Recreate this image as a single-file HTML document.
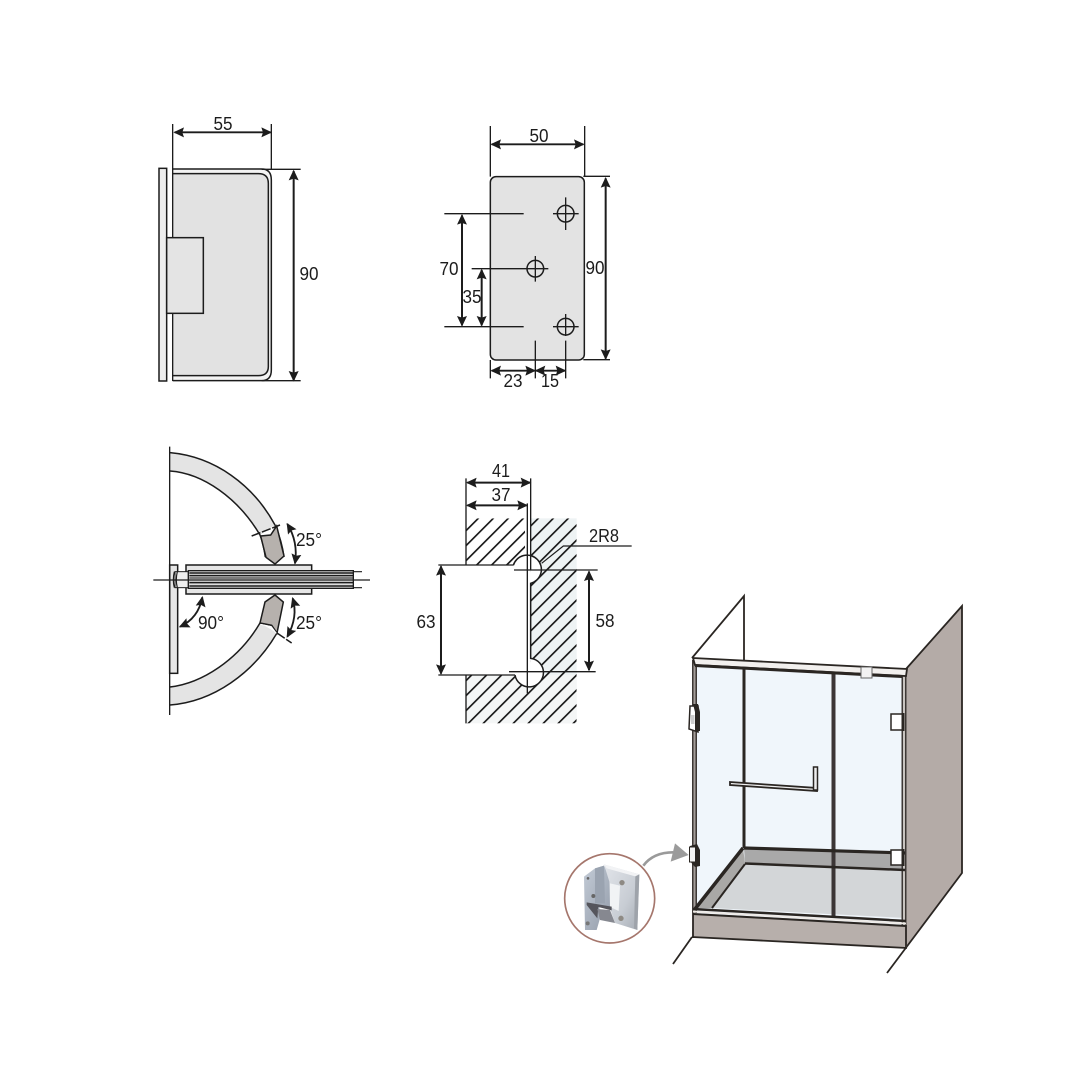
<!DOCTYPE html>
<html><head><meta charset="utf-8">
<style>html,body{margin:0;padding:0;background:#fff}svg{display:block}
text{font-family:"Liberation Sans",sans-serif;fill:#1c1c1c;text-anchor:middle;font-size:18px}</style></head>
<body>
<svg width="1080" height="1080" viewBox="0 0 1080 1080" xmlns="http://www.w3.org/2000/svg">
<defs>
<marker id="a" viewBox="0 0 32 32" refX="28" refY="16" markerWidth="32" markerHeight="32" markerUnits="userSpaceOnUse" orient="auto-start-reverse"><path d="M0,1 L32,16 L0,31 L5,16 Z" fill="#1c1c1c"/></marker>
<clipPath id="hc"><rect x="168" y="190" width="177" height="140"/><rect x="362" y="190" width="138" height="470"/><rect x="168" y="660" width="332" height="145"/></clipPath>
<linearGradient id="g1" x1="0" y1="0" x2="1" y2="1"><stop offset="0" stop-color="#c3cbd6"/><stop offset="1" stop-color="#8f98a6"/></linearGradient>
<linearGradient id="g2" x1="0" y1="0" x2="1" y2="1"><stop offset="0" stop-color="#e2e5ea"/><stop offset=".6" stop-color="#c8cdd4"/><stop offset="1" stop-color="#a5abb3"/></linearGradient>
<filter id="soft" x="0" y="0" width="100%" height="100%"><feGaussianBlur stdDeviation="0.35"/></filter>
</defs>
<g filter="url(#soft)">
<rect width="1080" height="1080" fill="#fff"/>

<!-- Drawing 1 -->
<g transform="translate(140,100) scale(.33333)" fill="none" stroke="#1c1c1c" stroke-width="4.5">
<rect x="57" y="205" width="23" height="638" fill="#eee"/>
<path d="M98,207 H365 Q394,207 394,240 V810 Q394,842 365,842 H98" fill="#f3f3f3"/>
<path d="M98,221 H355 Q385,221 385,250 V800 Q385,827 355,827 H98 Z" fill="#e2e2e2" stroke="none"/>
<path d="M98,221 H355 Q385,221 385,250 V800 Q385,827 355,827 H98"/>
<path d="M98,72 V843 M394,72 V210 M365,208 H482 M365,842 H482" stroke-width="4"/>
<rect x="80" y="413" width="110" height="227" fill="#e4e4e4"/>
<path d="M104,97 H392" stroke-width="5.500" marker-start="url(#a)" marker-end="url(#a)"/>
<path d="M461,213 V841" stroke-width="6" marker-start="url(#a)" marker-end="url(#a)"/>
</g>
<text x="223" y="130" textLength="19" lengthAdjust="spacingAndGlyphs">55</text>
<text x="309" y="280" textLength="19" lengthAdjust="spacingAndGlyphs">90</text>

<!-- Drawing 2 -->
<g transform="translate(430,110) scale(.33333)" fill="none" stroke="#1c1c1c" stroke-width="4.5">
<rect x="181" y="200" width="282" height="550" rx="17" fill="#e3e3e3"/>
<path d="M181,48 V200 M181,750 V805 M464,48 V198 M460,199 H540 M460,749 H540" stroke-width="4"/>
<path d="M43,311 H281 M43,650 H281 M125,476 H355 M369,311 H446 M407,262 V360 M369,650 H446 M407,612 V678 M407,692 V805 M316,438 V515 M316,692 V805" stroke-width="4"/>
<circle cx="407" cy="311" r="25"/><circle cx="316" cy="476" r="25"/><circle cx="407" cy="650" r="25"/>
<path d="M185,103 H460" stroke-width="5.500" marker-start="url(#a)" marker-end="url(#a)"/>
<path d="M527,205 V746" stroke-width="6" marker-start="url(#a)" marker-end="url(#a)"/>
<path d="M96,316 V646" stroke-width="6" marker-start="url(#a)" marker-end="url(#a)"/>
<path d="M155,480 V646" stroke-width="6" marker-start="url(#a)" marker-end="url(#a)"/>
<path d="M185,782 H314" stroke-width="5.500" marker-start="url(#a)" marker-end="url(#a)"/>
<path d="M318,782 H405" stroke-width="5.500" marker-start="url(#a)" marker-end="url(#a)"/>
</g>
<text x="539" y="142" textLength="19" lengthAdjust="spacingAndGlyphs">50</text>
<text x="595" y="274" textLength="19" lengthAdjust="spacingAndGlyphs">90</text>
<text x="449" y="275" textLength="19" lengthAdjust="spacingAndGlyphs">70</text>
<text x="472" y="303" textLength="19" lengthAdjust="spacingAndGlyphs">35</text>
<text x="513" y="387" textLength="19" lengthAdjust="spacingAndGlyphs">23</text>
<text x="550" y="387" textLength="18" lengthAdjust="spacingAndGlyphs">15</text>

<!-- Drawing 3 -->
<g transform="translate(140,440) scale(.33333)" fill="none" stroke="#1c1c1c" stroke-width="4.5">
<path d="M90,38 C225,50 340,135 405,255 L360,285 C295,175 190,100 90,93 Z" fill="#e4e4e4" stroke="none"/>
<path d="M90,795 C220,785 340,700 411,579 L360,549 C295,660 185,730 90,741 Z" fill="#e4e4e4" stroke="none"/>
<path d="M90,38 C225,50 340,135 405,255 C418,285 428,320 432,351 M90,93 C190,100 295,175 360,285 C368,305 373,330 376,351"/>
<path d="M90,795 C220,785 340,700 411,579 M90,741 C185,730 295,660 360,549"/>
<path d="M362,288 L392,285 L410,258 L432,348 L405,372 L378,352 Z" fill="#b6b1ad"/>
<path d="M405,465 L430,486 L411,579 L395,556 L360,549 L375,486 Z" fill="#b6b1ad"/>
<path d="M362,553 L394,560 L409,580" stroke="#fff" stroke-width="3"/>
<path d="M335,288 L420,255 M411,579 L455,609" stroke-dasharray="28 5"/>
<rect x="89" y="375" width="24" height="325" fill="#e6e6e6"/>
<rect x="138" y="375" width="377" height="87" fill="#e6e6e6"/>
<rect x="105" y="395" width="40" height="48" fill="#eee" stroke-width="3"/>
<path d="M103,395 Q97,420 103,443 M112,395 Q106,420 112,443" stroke-width="3.500"/>
<rect x="145" y="392" width="495" height="53" fill="#ddd" stroke-width="4"/>
<path d="M148,399 H640 M148,407 H640 M148,428 H640 M148,438 H640" stroke-width="4.500"/>
<path d="M148,414 H640" stroke-width="3"/>
<path d="M640,395 H666 M640,443 H666" stroke-width="3.500"/>
<path d="M89,20 V825 M40,420 H690" stroke-width="4"/>
<path d="M442,252 Q475,305 465,370" stroke-width="5.500" marker-start="url(#a)" marker-end="url(#a)"/>
<path d="M458,475 Q475,530 442,590" stroke-width="5.500" marker-start="url(#a)" marker-end="url(#a)"/>
<path d="M187,472 Q175,535 120,560" stroke-width="5.500" marker-start="url(#a)" marker-end="url(#a)"/>
</g>
<text x="309" y="546" textLength="26" lengthAdjust="spacingAndGlyphs">25°</text>
<text x="309" y="629" textLength="26" lengthAdjust="spacingAndGlyphs">25°</text>
<text x="211" y="629" textLength="26" lengthAdjust="spacingAndGlyphs">90°</text>

<!-- Drawing 4 -->
<g transform="translate(410,455) scale(.33333)" fill="none" stroke="#1c1c1c" stroke-width="4.5">
<rect x="362" y="190" width="138" height="615" fill="#eef3f4" stroke="none"/>
<rect x="168" y="660" width="332" height="145" fill="#f4f6f6" stroke="none"/>
<g clip-path="url(#hc)"><path stroke-width="5" d="M295,100L-505,900M340,100L-460,900M385,100L-415,900M430,100L-370,900M475,100L-325,900M520,100L-280,900M565,100L-235,900M610,100L-190,900M655,100L-145,900M700,100L-100,900M745,100L-55,900M790,100L-10,900M835,100L35,900M880,100L80,900M925,100L125,900M970,100L170,900M1015,100L215,900M1060,100L260,900M1105,100L305,900M1150,100L350,900M1195,100L395,900"/></g>
<path d="M310,331 A43,43 0 1 1 362,385 L362,345 L310,345 Z" fill="#fff" stroke="none"/>
<path d="M362,610 A43,43 0 1 1 315,660 L345,645 L362,645 Z" fill="#fff" stroke="none"/>
<rect x="345" y="320" width="17" height="300" fill="#fff" stroke="none"/>
<rect x="85" y="332" width="260" height="327" fill="#fff" stroke="none"/>
<path d="M310,331 A43,43 0 1 1 362,385 V610 A43,43 0 1 1 315,660"/>
<path d="M168,70 V330 M168,660 V805 M362,70 V345 M352,145 V715 M85,330 H310 M85,660 H315 M312,345 H563 M297,650 H557" stroke-width="4"/>
<path d="M665,273 H460 L395,325" stroke-width="3.500"/>
<path d="M172,83 H360" stroke-width="6" marker-start="url(#a)" marker-end="url(#a)"/>
<path d="M172,151 H350" stroke-width="6" marker-start="url(#a)" marker-end="url(#a)"/>
<path d="M93,334 V656" stroke-width="6" marker-start="url(#a)" marker-end="url(#a)"/>
<path d="M537,350 V645" stroke-width="6" marker-start="url(#a)" marker-end="url(#a)"/>
</g>
<text x="501" y="477" textLength="18" lengthAdjust="spacingAndGlyphs">41</text>
<text x="501" y="501" textLength="19" lengthAdjust="spacingAndGlyphs">37</text>
<text x="604" y="542" textLength="30" lengthAdjust="spacingAndGlyphs">2R8</text>
<text x="426" y="628" textLength="19" lengthAdjust="spacingAndGlyphs">63</text>
<text x="605" y="627" textLength="19" lengthAdjust="spacingAndGlyphs">58</text>

<!-- Shower -->
<g stroke="#2b2624" fill="none">
<polygon points="906,669 962,606 962,873 905,948" fill="#b4aba7" stroke="none"/>
<path d="M906,669 L962,606 V873 L887,973" stroke-width="1.800"/>
<polygon points="694,665 904,676 904,925 694,913" fill="#f0f6fb" stroke="none"/>
<polygon points="745,863 905,870 905,918 712,908" fill="#d3d6d8" stroke="none"/>
<polygon points="744,848 905,853 905,870 745,863" fill="#a9a9a9" stroke="none"/>
<polygon points="695,908 743,848 745,863 712,908" fill="#a9a8a6" stroke="none"/>
<polygon points="693,913 906,925 907,948 692,937" fill="#b7afab" stroke="none"/>
<path d="M692,937 L907,948 M692,937 L673,964 M693,913 V937 M906,925 V948" stroke-width="1.800"/>
<path d="M692,658 L744,596 V848" stroke-width="1.800"/>
<path d="M744,665 V848" stroke-width="3"/>
<path d="M694.500,660 V913" stroke-width="5" stroke="#3d3835"/>
<path d="M694.500,660 V913" stroke-width="2" stroke="#a39d99"/>
<path d="M904,672 V925" stroke-width="5" stroke="#3d3835"/>
<path d="M904,672 V925" stroke-width="2" stroke="#c8c4c0"/>
<path d="M833.500,668 V917" stroke-width="4" stroke="#3a3634"/>
<path d="M744,848 L905,853" stroke-width="3.200"/>
<path d="M745,863.500 L905,870" stroke-width="2.500"/>
<path d="M695,909 L743,848" stroke-width="3.500"/>
<path d="M712,908 L745,864" stroke-width="2"/>
<path d="M693,909 L906,921" stroke-width="2.500"/>
<path d="M693,914 L906,926" stroke-width="2"/>
<path d="M693,911.500 L906,923.500" stroke="#eeeae6" stroke-width="1.800"/>
<path d="M693,658 L907,669 L906,676 L695,665 Z" fill="#f2f0ee" stroke-width="1.800"/>
<path d="M695,665.500 L902,676.500" stroke-width="3"/>
<rect x="861" y="667" width="11" height="11" fill="#f2f2f2" stroke="#666" stroke-width="1"/>
<path d="M730,782 L817,788 V791 L730,785 Z" fill="#eee" stroke-width="1.800"/>
<rect x="813.500" y="767" width="4" height="23" fill="#eee" stroke-width="1.500"/>
<!-- hinges -->
<path d="M690,706 H698 V732 L689,729 Z" fill="#fff" stroke-width="1.500"/>
<path d="M693,704 L698,704 L700,712 V731 L695,731 V712 Z" fill="#2b2624" stroke="none"/>
<rect x="691" y="715" width="3.500" height="9" fill="#ccc" stroke="none"/>
<path d="M690,846 L697,844 L700,850 V866 L695,867 L689,860 Z" fill="#2b2624" stroke="none"/>
<rect x="689.500" y="847" width="6" height="15" fill="#f3f3f3" stroke-width="1"/>
<rect x="891" y="714" width="12" height="16" fill="#fff" stroke-width="1.500"/>
<path d="M903,713 V731" stroke-width="3"/>
<rect x="891" y="850" width="12" height="15" fill="#fff" stroke-width="1.500"/>
<path d="M903,849 V866" stroke-width="3"/>
</g>

<!-- Detail circle + photo -->
<g transform="translate(560,835) scale(.33333)">
<ellipse cx="149" cy="190" rx="135" ry="134" fill="#fff" stroke="#a5766c" stroke-width="5"/>
<path d="M250,92 Q280,52 340,52" fill="none" stroke="#9a9a9a" stroke-width="8"/>
<polygon points="345,25 386,60 332,80" fill="#9b9b9b"/>
<polygon points="72,125 105,100 132,92 150,130 165,160 160,215 118,215 120,250 110,285 75,285" fill="url(#g1)"/>
<polygon points="105,100 132,92 135,205 105,205" fill="#9aa3b0"/>
<polygon points="132,88 238,118 232,285 165,264 150,220 148,140" fill="url(#g2)"/>
<polygon points="132,88 238,118 226,124 140,100" fill="#f2f3f5"/>
<polygon points="226,124 238,118 232,285 222,280" fill="#9ea3aa"/>
<polygon points="150,145 180,152 176,228 150,216" fill="#f1f3f5"/>
<polygon points="80,202 155,215 155,226 115,216 112,250 80,210" fill="#55555b"/>
<polygon points="112,222 150,225 165,264 120,255" fill="#868890"/>
<circle cx="186" cy="143" r="8" fill="#8e8a84"/><circle cx="183" cy="250" r="8" fill="#8e8a84"/>
<circle cx="100" cy="183" r="6" fill="#666"/><circle cx="83" cy="265" r="6" fill="#777"/><circle cx="84" cy="130" r="4" fill="#666"/>
</g>
</g>
</svg>
</body></html>
